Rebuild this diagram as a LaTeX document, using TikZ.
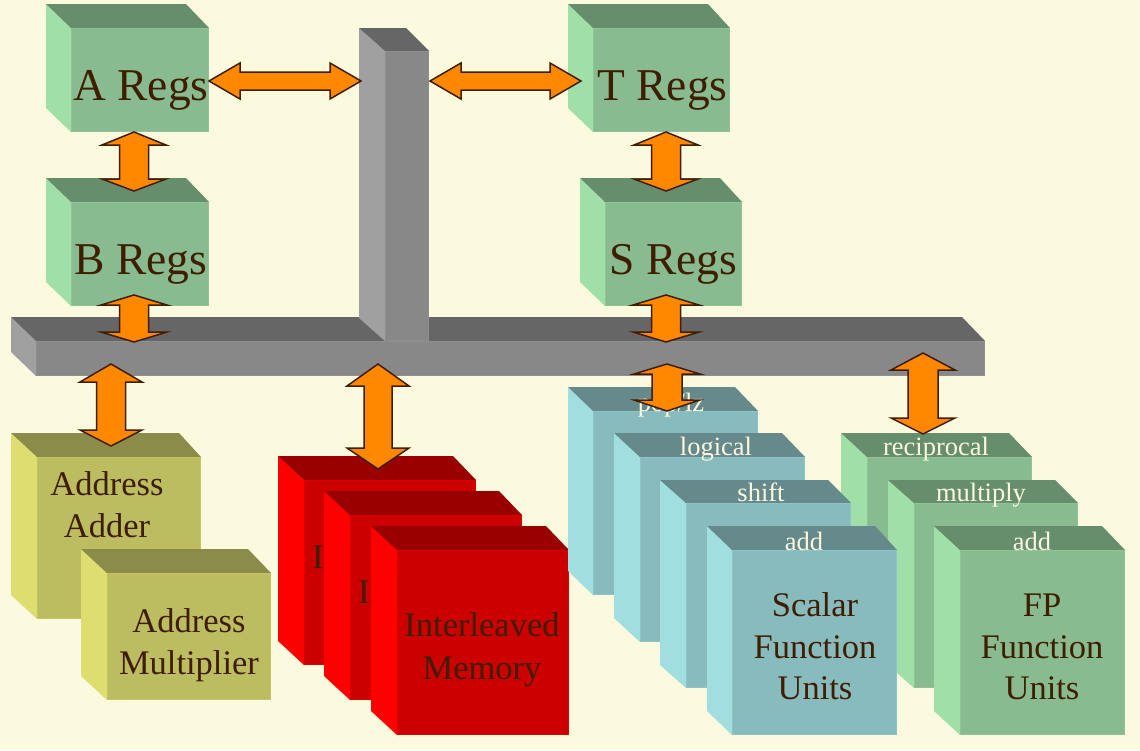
\documentclass[tikz,border=0pt]{standalone}
\usepackage{fontspec}
\setmainfont{Liberation Serif}
\definecolor{bgc}{HTML}{FBFADF}
\definecolor{ink}{HTML}{3F1D00}
\definecolor{arrowc}{HTML}{FF8800}
\definecolor{greenT}{HTML}{668E6C}\definecolor{greenF}{HTML}{89BB90}\definecolor{greenL}{HTML}{A0E0A8}
\definecolor{cyanT}{HTML}{66898C}\definecolor{cyanF}{HTML}{88BBBD}\definecolor{cyanL}{HTML}{A0DEDF}
\definecolor{oliveT}{HTML}{8C8C4A}\definecolor{oliveF}{HTML}{BCBC60}\definecolor{oliveL}{HTML}{DEDE70}
\definecolor{redT}{HTML}{990000}\definecolor{redF}{HTML}{CC0000}\definecolor{redL}{HTML}{FF0000}
\definecolor{grayT}{HTML}{666666}\definecolor{grayF}{HTML}{888888}\definecolor{grayL}{HTML}{A0A0A0}
\tikzset{
  bigtext/.style={text=ink,font=\fontsize{45.5}{50}\selectfont,anchor=base,inner sep=0pt,yshift=-1pt},
  midtext/.style={text=ink,font=\fontsize{34.5}{42}\selectfont,anchor=base,inner sep=0pt,yshift=-1pt},
  toptext/.style={text=bgc,font=\fontsize{26.5}{30}\selectfont,anchor=base,inner sep=0pt,yshift=-1pt},
  blockarrow/.style={fill=arrowc,draw=ink,line width=1.5pt,line join=miter},
  cubefront/.style={rectangle,anchor=north west,inner sep=0pt,outer sep=0pt,line width=.8pt}
}
% #1 name, #2 colour family, #3 x0, #4 y0, #5 front x, #6 front y, #7 back right x, #8 right x, #9 bottom y
\newcommand{\cubebox}[9]{%
  \pgfmathsetmacro{\cw}{#8-#5-.6}\pgfmathsetmacro{\ch}{#9-#6-.6}\pgfmathsetmacro{\cb}{#9-#6+#4}%
  \fill[#2L] (#3,#4) -- (#5,#6) -- (#5,#9) -- (#3,\cb) -- cycle;
  \fill[#2T] (#3,#4) -- (#7,#4) -- (#8,#6) -- (#5,#6) -- cycle;
  \node[cubefront,fill=#2F,draw=#2F!75!#2L,minimum width=\cw pt,minimum height=\ch pt] (#1) at (#5,#6) {};
}
% vertical arrow: #1 name, #2 x, #3 top, #4 upper head base, #5 lower head base, #6 bottom, #7 head half width, #8 shaft half width
\newcommand{\vertarrow}[8]{%
  \coordinate (#1-a) at (#2,#3);\coordinate (#1-b) at (#2,#6);
  \draw[blockarrow] (#1-a) -- ++(#7,#4-#3) -- ++(-#7+#8,0) -- ++(0,#5-#4) -- ++(#7-#8,0)
    -- (#1-b) -- ++(-#7,#5-#6) -- ++(#7-#8,0) -- ++(0,#4-#5) -- ++(-#7+#8,0) -- cycle;
}
% horizontal arrow: #1 name, #2 y, #3 left, #4 right
\newcommand{\horarrow}[4]{%
  \coordinate (#1-a) at (#3,#2);\coordinate (#1-b) at (#4,#2);
  \draw[blockarrow] (#1-a) -- ++(31,-18) -- ++(0,9) -- ++(#4-#3-62,0) -- ++(0,-9)
    -- (#1-b) -- ++(-31,18) -- ++(0,-9) -- ++(-#4+#3+62,0) -- ++(0,9) -- cycle;
}
\begin{document}
\begin{tikzpicture}[x=1pt,y=-1pt]
\useasboundingbox[fill=bgc] (0,0) rectangle (1140,750);
% registers
\cubebox{aregs}{green}{46}{4}{71}{28}{186}{209}{132}
\node[bigtext] (aregsT) at (141,99) {A Regs};
\cubebox{bregs}{green}{46}{178}{71}{202}{186}{209}{306}
\node[bigtext] (bregsT) at (141,273) {B Regs};
\cubebox{tregs}{green}{568}{4}{593}{28}{708}{730}{132}
\node[bigtext] (tregsT) at (662.5,99) {T Regs};
\cubebox{sregs}{green}{580}{178}{605}{202}{720}{742}{306}
\node[bigtext] (sregsT) at (673.5,273) {S Regs};
% bars
\cubebox{hbar}{gray}{11}{317}{36}{341}{962}{985}{376}
\cubebox{vbar}{gray}{359}{28}{385}{51}{406}{429}{341}
% address units
\cubebox{aadd}{olive}{11}{433}{37}{457}{179}{201}{619}
\node[midtext] (aaddT1) at (107,494) {Address};
\node[midtext] (aaddT2) at (107,536) {Adder};
\cubebox{amul}{olive}{81}{549}{107}{573}{248}{271}{700}
\node[midtext] (amulT1) at (189,631) {Address};
\node[midtext] (amulT2) at (189,673) {Multiplier};
% memory
\cubebox{mem1}{red}{278}{456}{304}{480}{453}{476}{665}
\node[midtext,anchor=base west] (mem1T1) at (312,567) {In};
\cubebox{mem2}{red}{324}{491}{350}{515}{499}{522}{700}
\node[midtext,anchor=base west] (mem2T1) at (358,602) {In};
\cubebox{mem3}{red}{371}{526}{397}{550}{546}{569}{735}
\node[midtext] (mem3T1) at (482,635) {Interleaved};
\node[midtext] (mem3T2) at (482,678) {Memory};
% fp units
\cubebox{fp1}{green}{841}{433}{867}{457}{1009}{1032}{642}
\node[toptext] (fp1T) at (936,454) {reciprocal};
\cubebox{fp2}{green}{888}{480}{914}{503}{1055}{1078}{688}
\node[toptext] (fp2T) at (981,500.5) {multiply};
\cubebox{fp3}{green}{934}{526}{960}{550}{1102}{1125}{735}
\node[toptext] (fp3T) at (1032,549) {add};
\node[midtext] (fp3T1) at (1042,615) {FP};
\node[midtext] (fp3T2) at (1042,657) {Function};
\node[midtext] (fp3T3) at (1042,698) {Units};
% scalar units
\cubebox{sc1}{cyan}{568}{387}{593}{411}{735}{758}{595}
\node[toptext] (sc1T) at (671,410) {pop/lz};
\cubebox{sc2}{cyan}{614}{433}{640}{457}{782}{805}{642}
\node[toptext] (sc2T) at (716,454) {logical};
\cubebox{sc3}{cyan}{660}{480}{686}{503}{828}{851}{688}
\node[toptext] (sc3T) at (761,500.5) {shift};
\cubebox{sc4}{cyan}{707}{526}{732}{550}{875}{897}{735}
\node[toptext] (sc4T) at (804,549) {add};
\node[midtext] (sc4T1) at (815,615) {Scalar};
\node[midtext] (sc4T2) at (815,657) {Function};
\node[midtext] (sc4T3) at (815,698) {Units};
% arrows
\horarrow{arrA}{81}{209}{361}
\horarrow{arrT}{81}{430}{581}
\vertarrow{arrAB}{134}{132}{145}{179}{191}{32}{14.5}
\vertarrow{arrBb}{134}{295}{305}{332}{342}{33}{14.5}
\vertarrow{arrTS}{666}{132}{145}{179}{191}{32}{14.5}
\vertarrow{arrSb}{666}{295}{305}{332}{342}{33}{14.5}
\vertarrow{arrAd}{111}{364}{382}{430}{446}{31}{14.5}
\vertarrow{arrMe}{378}{364}{386}{448}{469}{31}{14}
\vertarrow{arrSc}{667}{364}{374}{400}{411}{33}{15}
\vertarrow{arrFp}{923}{353}{370}{418}{434}{32}{15}
\end{tikzpicture}
\end{document}
